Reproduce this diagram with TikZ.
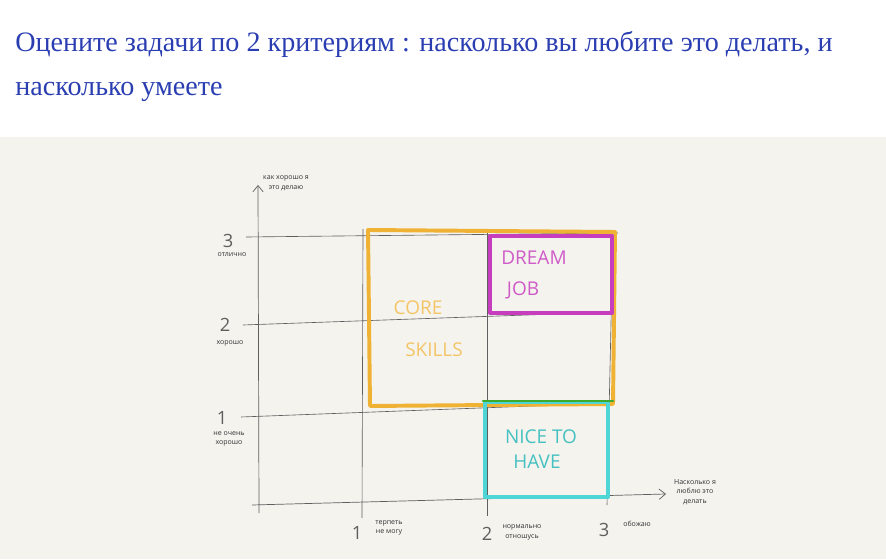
\documentclass[tikz,border=0pt]{standalone}
\usepackage{fontspec}
\setmainfont{Liberation Serif}
\newfontfamily\handfont{Open Sans}
\usetikzlibrary{arrows.meta}

\definecolor{titleblue}{RGB}{42,62,178}
\definecolor{paper}{RGB}{244,243,238}
\definecolor{pencil}{RGB}{95,95,95}
\definecolor{coreorange}{RGB}{240,178,52}
\definecolor{dreampink}{RGB}{198,62,190}
\definecolor{nicecyan}{RGB}{78,214,214}
\definecolor{edgegreen}{RGB}{60,170,45}

\begin{document}
\begin{tikzpicture}[
    >={Straight Barb[length=1.6mm,width=2.6mm]},
    titre/.style={
        anchor=base west,
        inner sep=0pt,
        text=titleblue,
        font=\fontsize{20}{22}\selectfont
    },
    axe/.style={
        ->,
        draw=pencil,
        line width=0.5pt
    },
    grille/.style={
        draw=pencil,
        line width=0.45pt
    },
    cadre/.style={
        line width=2.8pt,
        line join=round,
        line cap=round
    },
    chiffre/.style={
        text=pencil,
        inner sep=0pt,
        font=\handfont\fontsize{13}{13}\selectfont
    },
    legende/.style={
        text=black!80,
        inner sep=0pt,
        align=center,
        font=\handfont\fontsize{5}{7}\selectfont
    },
    zone/.style={
        inner sep=0pt,
        font=\handfont\fontsize{13.5}{14}\selectfont
    }
]

% Bounding box and paper
\useasboundingbox (0,0) rectangle (22.15,13.975);
\fill[paper] (0,0) rectangle (22.15,10.55);

% Title
\node[titre] (title1) at (0.375,12.675)
{Оцените задачи по 2 критериям : насколько вы любите это делать, и};
\node[titre] (title2) at (0.375,11.575) {насколько умеете};

% Axes
\coordinate (ybas) at (6.475,1.15);
\coordinate (yhaut) at (6.45,9.35);
\coordinate (xgauche) at (6.3,1.35);
\coordinate (xdroite) at (16.65,1.625);
\draw[axe] (ybas) -- (yhaut);
\draw[axe] (xgauche) -- (xdroite);

% Grid lines
\coordinate (h3a) at (6.15,8.05);
\coordinate (h3b) at (15.45,8.15);
\coordinate (h2a) at (6.075,5.85);
\coordinate (h2b) at (15.3,6.175);
\coordinate (h1a) at (6.025,3.55);
\coordinate (h1b) at (15.325,3.9);
\coordinate (v1a) at (9.075,8.25);
\coordinate (v1b) at (9.05,1.025);
\coordinate (v2a) at (12.175,8.25);
\coordinate (v2b) at (12.175,1.075);
\coordinate (v3a) at (15.325,8.175);
\coordinate (v3b) at (15.175,1.35);
\draw[grille] (h3a) -- (h3b);
\draw[grille] (h2a) -- (h2b);
\draw[grille] (h1a) -- (h1b);
\draw[grille] (v1a) -- (v1b);
\draw[grille] (v2a) -- (v2b);
\draw[grille] (v3a) -- (v3b);

% Core skills frame
\coordinate (c1) at (9.2,8.225);
\coordinate (c2) at (15.375,8.175);
\coordinate (c3) at (15.325,3.875);
\coordinate (c4) at (9.25,3.825);
\draw[cadre, coreorange] (c1) -- (c2) -- (c3) -- (c4) -- cycle;

% Dream job frame
\coordinate (d1) at (12.25,8.075);
\coordinate (d2) at (15.3,8.075);
\coordinate (d3) at (15.3,6.15);
\coordinate (d4) at (12.25,6.15);
\draw[cadre, dreampink] (d1) -- (d2) -- (d3) -- (d4) -- cycle;

% Nice to have frame
\coordinate (n1) at (12.125,3.925);
\coordinate (n2) at (15.2,3.925);
\coordinate (n3) at (15.2,1.55);
\coordinate (n4) at (12.125,1.55);
\draw[cadre, nicecyan] (n1) -- (n2) -- (n3) -- (n4) -- cycle;
\coordinate (g1) at (12.075,3.95);
\coordinate (g2) at (15.325,3.95);
\draw[cadre, edgegreen, line width=2pt] (g1) -- (g2);

% Zone names
\node[zone, text=coreorange!75] (core) at (10.45,6.275) {CORE};
\node[zone, text=coreorange!75] (skills) at (10.85,5.225) {SKILLS};
\node[zone, text=dreampink!85] (dream) at (13.35,7.525) {DREAM};
\node[zone, text=dreampink!85] (job) at (13.075,6.725) {JOB};
\node[zone, text=nicecyan!90!black] (nice) at (13.525,3.05) {NICE TO};
\node[zone, text=nicecyan!90!black] (have) at (13.425,2.425) {HAVE};

% Vertical scale
\node[chiffre] (y3) at (5.7,7.95) {3};
\node[legende] (y3t) at (5.8,7.6) {отлично};
\node[chiffre] (y2) at (5.625,5.85) {2};
\node[legende] (y2t) at (5.75,5.4) {хорошо};
\node[chiffre] (y1) at (5.55,3.52) {1};
\node[legende] (y1t) at (5.725,3.0) {не очень\\хорошо};
\node[legende] (ylab) at (7.15,9.4) {как хорошо я\\это делаю};

% Horizontal scale
\node[chiffre] (x1) at (8.925,0.65) {1};
\node[legende] (x1t) at (9.725,0.775) {терпеть\\не могу};
\node[chiffre] (x2) at (12.175,0.625) {2};
\node[legende] (x2t) at (13.05,0.66) {нормально\\отношусь};
\node[chiffre] (x3) at (15.1,0.725) {3};
\node[legende] (x3t) at (15.925,0.875) {обожаю};
\node[legende] (xlab) at (17.375,1.675) {Насколько я\\люблю это\\делать};

\end{tikzpicture}
\end{document}
